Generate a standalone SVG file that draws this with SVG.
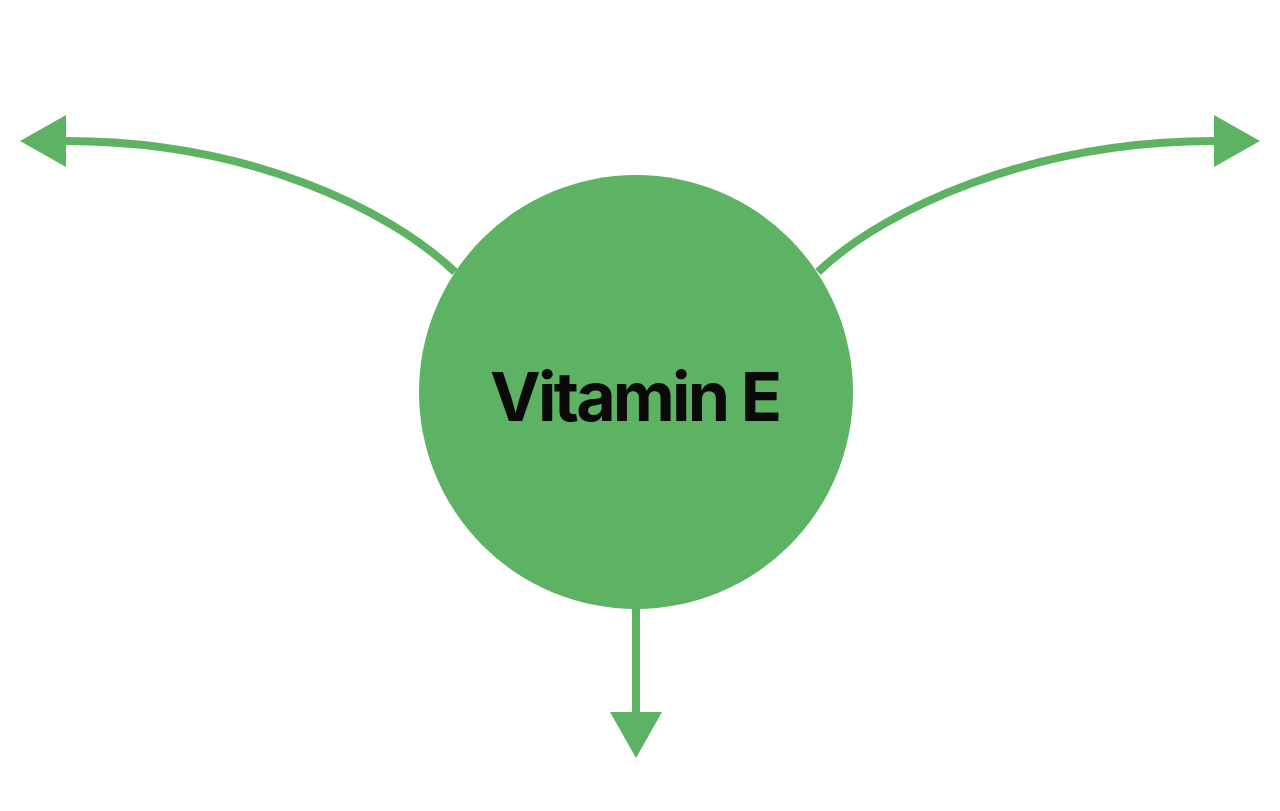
<svg xmlns="http://www.w3.org/2000/svg" width="1280" height="811" viewBox="0 0 1280 811">
<style>
.conn{fill:none;stroke:#5db264;stroke-width:8}
.node{fill:#5db264}
.label{font-family:Inter,"Liberation Sans",sans-serif;font-weight:700;font-size:68px;fill:#0a0a0a}
</style>
<defs>
<marker id="ah" markerUnits="userSpaceOnUse" markerWidth="50" markerHeight="56" refX="0" refY="26" orient="auto" viewBox="0 0 50 52">
<polygon points="0,0 46,26 0,52" fill="#5db264"/>
</marker>
</defs>
<rect width="1280" height="811" fill="#ffffff"/>
<g id="connectors">
<path class="conn" d="M455,272 C390,210 250,141 66,141" marker-end="url(#ah)"/>
<path class="conn" d="M818,272 C883,210 1030,141 1214,141" marker-end="url(#ah)"/>
<path class="conn" d="M636,606 L636,712" marker-end="url(#ah)"/>
</g>
<g id="vitamin-e">
<circle class="node" cx="636" cy="392" r="217"/>
<text class="label" x="636" y="421" text-anchor="middle" textLength="292" lengthAdjust="spacing">Vitamin E</text>
</g>
</svg>
